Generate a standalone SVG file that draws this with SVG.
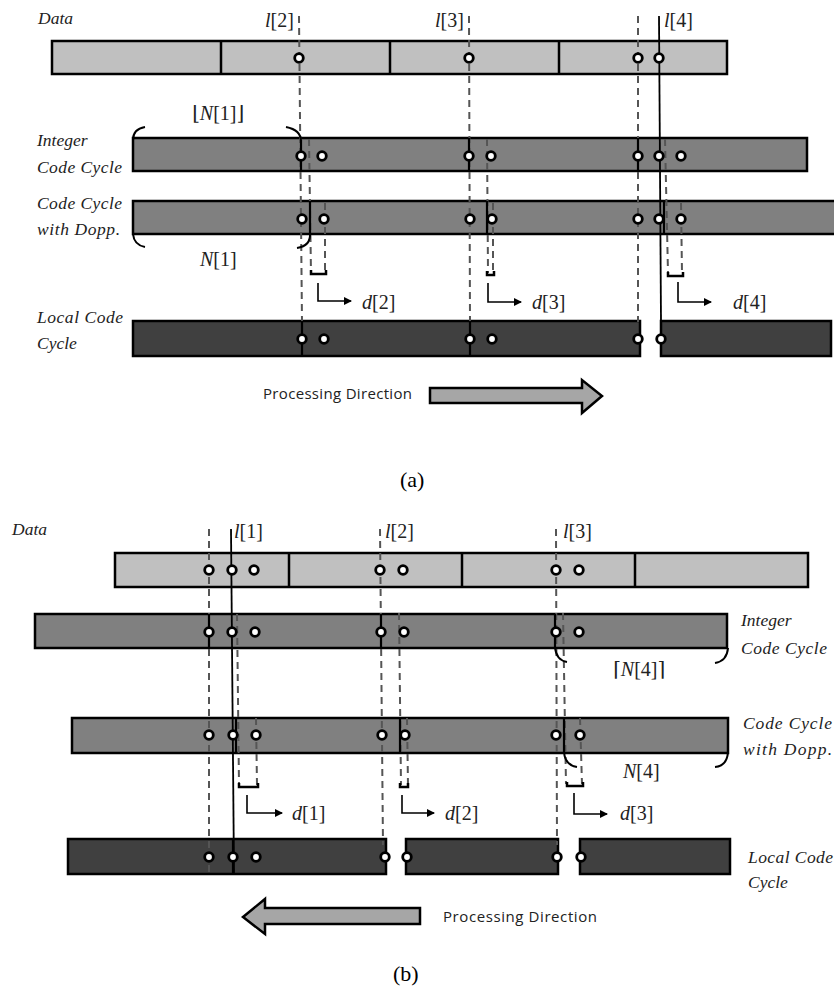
<svg xmlns="http://www.w3.org/2000/svg" width="834" height="1007" viewBox="0 0 834 1007">
<defs>
<style>
.bar{stroke:#000;stroke-width:2.5}
.data{fill:#c0c0c0}
.cyc{fill:#808080}
.loc{fill:#404040}
.div{stroke:#000;stroke-width:2.5}
.dash{stroke:#555;stroke-width:2;stroke-dasharray:7 5;fill:none}
.solid{stroke:#000;stroke-width:1.8;fill:none}
.mark{stroke:#000;stroke-width:2.2;fill:none}
.brace{stroke:#000;stroke-width:2;fill:none}
.brk{stroke:#000;stroke-width:2.5;fill:none}
.arr{stroke:#000;stroke-width:1.6;fill:none;marker-end:url(#ah)}
.pt{fill:#fff;stroke:#000;stroke-width:2.8}
.lab{font-family:"Liberation Serif","DejaVu Serif",serif;font-style:italic;font-size:17.5px;fill:#222}
.math{font-family:"Liberation Serif","DejaVu Serif",serif;font-size:20px;fill:#222}
.it{font-style:italic}
.pd{font-family:"Open Sans","Liberation Sans",sans-serif;font-size:15px;fill:#222}
.cap{font-family:"Liberation Serif","DejaVu Serif",serif;font-size:22px;fill:#000}
.big{fill:#a6a6a6;stroke:#000;stroke-width:2.5}
</style>
<marker id="ah" markerWidth="8" markerHeight="8" refX="7" refY="4" orient="auto" markerUnits="userSpaceOnUse">
<path d="M0,0 L8,4 L0,8 Z" fill="#000"/>
</marker>
</defs>

<!-- ===== (a) ===== -->
<g id="a-data">
<rect class="bar data" x="52" y="41" width="675" height="33"/>
<line class="div" x1="221" y1="41" x2="221" y2="74"/>
<line class="div" x1="390" y1="41" x2="390" y2="74"/>
<line class="div" x1="559" y1="41" x2="559" y2="74"/>
<text class="lab" x="38" y="24">Data</text>
</g>
<g id="a-integer">
<rect class="bar cyc" x="133" y="138" width="674" height="33"/>
<text class="lab" x="37" y="146">Integer</text>
<text class="lab" x="37" y="173" textLength="85">Code Cycle</text>
</g>
<g id="a-dopp">
<rect class="bar cyc" x="133" y="201" width="710" height="33"/>
<text class="lab" x="37" y="209" textLength="85">Code Cycle</text>
<text class="lab" x="37" y="235" textLength="83">with Dopp.</text>
</g>
<g id="a-local">
<rect class="bar loc" x="133" y="321" width="507" height="35"/>
<rect class="bar loc" x="661" y="321" width="170" height="35"/>
<text class="lab" x="37" y="323" textLength="86">Local Code</text>
<text class="lab" x="37" y="349">Cycle</text>
</g>

<g id="a-connectors">
<line class="dash" x1="299" y1="16" x2="302" y2="322"/>
<line class="dash" x1="469" y1="16" x2="470" y2="322"/>
<line class="dash" x1="638" y1="16" x2="638" y2="322"/>
<line class="solid" x1="659" y1="16" x2="661" y2="322"/>
<line class="dash" x1="309" y1="139" x2="311" y2="273"/>
<line class="dash" x1="325" y1="203" x2="325" y2="273"/>
<line class="dash" x1="487" y1="139" x2="488" y2="273"/>
<line class="dash" x1="493" y1="203" x2="493" y2="273"/>
<line class="dash" x1="665" y1="139" x2="668" y2="273"/>
<line class="dash" x1="681" y1="203" x2="682" y2="273"/>
<line class="mark" x1="301" y1="140" x2="301" y2="171"/>
<line class="mark" x1="469" y1="138" x2="469" y2="171"/>
<line class="mark" x1="638" y1="138" x2="638" y2="171"/>
<line class="mark" x1="310" y1="201" x2="310" y2="234"/>
<line class="mark" x1="487" y1="201" x2="487" y2="234"/>
<line class="mark" x1="664" y1="201" x2="664" y2="234"/>
<line class="mark" x1="302" y1="321" x2="302" y2="356"/>
<line class="mark" x1="470" y1="321" x2="470" y2="356"/>
<path class="brace" d="M145,127 Q133,129 133,140"/>
<path class="brace" d="M286,127 Q301,130 301,141"/>
<path class="brace" d="M133,234 Q134,245 145,247"/>
<path class="brace" d="M310,233 Q311,246 297,248"/>
<path class="brk" d="M311,270 V274 H326 V270"/>
<path class="brk" d="M487,271 V275 H494 V271"/>
<path class="brk" d="M668,272 V276 H683 V272"/>
<path class="arr" d="M318,283 V301 H351"/>
<path class="arr" d="M488,283 V302 H521"/>
<path class="arr" d="M678,282 V302 H711"/>
</g>

<g id="a-points">
<circle class="pt" cx="299" cy="58" r="4.3"/>
<circle class="pt" cx="469" cy="58" r="4.3"/>
<circle class="pt" cx="638" cy="58" r="4.3"/>
<circle class="pt" cx="659" cy="58" r="4.3"/>
<circle class="pt" cx="301" cy="156" r="4.3"/>
<circle class="pt" cx="322" cy="156" r="4.3"/>
<circle class="pt" cx="469" cy="156" r="4.3"/>
<circle class="pt" cx="491" cy="156" r="4.3"/>
<circle class="pt" cx="638" cy="156" r="4.3"/>
<circle class="pt" cx="659" cy="156" r="4.3"/>
<circle class="pt" cx="681" cy="156" r="4.3"/>
<circle class="pt" cx="302" cy="219" r="4.3"/>
<circle class="pt" cx="324" cy="219" r="4.3"/>
<circle class="pt" cx="470" cy="219" r="4.3"/>
<circle class="pt" cx="492" cy="219" r="4.3"/>
<circle class="pt" cx="638" cy="219" r="4.3"/>
<circle class="pt" cx="659" cy="219" r="4.3"/>
<circle class="pt" cx="681" cy="219" r="4.3"/>
<circle class="pt" cx="302" cy="339" r="4.3"/>
<circle class="pt" cx="324" cy="339" r="4.3"/>
<circle class="pt" cx="470" cy="339" r="4.3"/>
<circle class="pt" cx="492" cy="339" r="4.3"/>
<circle class="pt" cx="638" cy="339" r="4.3"/>
<circle class="pt" cx="661" cy="339" r="4.3"/>
</g>

<g id="a-labels">
<text class="math" x="265" y="27"><tspan class="it">l</tspan>[2]</text>
<text class="math" x="435" y="27"><tspan class="it">l</tspan>[3]</text>
<text class="math" x="664" y="27"><tspan class="it">l</tspan>[4]</text>
<text class="math" x="192" y="120">⌊<tspan class="it">N</tspan>[1]⌋</text>
<text class="math" x="200" y="266"><tspan class="it">N</tspan>[1]</text>
<text class="math" x="362" y="309"><tspan class="it">d</tspan>[2]</text>
<text class="math" x="532" y="309"><tspan class="it">d</tspan>[3]</text>
<text class="math" x="733" y="309"><tspan class="it">d</tspan>[4]</text>
</g>

<g id="a-direction">
<text class="pd" x="263" y="399" textLength="149">Processing Direction</text>
<path class="big" d="M430,388 H582 V380 L602,396 L582,413 V403 H430 Z"/>
</g>
<text class="cap" x="400" y="487">(a)</text>

<!-- ===== (b) ===== -->
<g id="b-data">
<rect class="bar data" x="115" y="553" width="693" height="34"/>
<line class="div" x1="289" y1="553" x2="289" y2="587"/>
<line class="div" x1="462" y1="553" x2="462" y2="587"/>
<line class="div" x1="635" y1="553" x2="635" y2="587"/>
<text class="lab" x="12" y="535">Data</text>
</g>
<g id="b-integer">
<rect class="bar cyc" x="35" y="614" width="692" height="34"/>
<text class="lab" x="741" y="626">Integer</text>
<text class="lab" x="741" y="654" textLength="86">Code Cycle</text>
</g>
<g id="b-dopp">
<rect class="bar cyc" x="72" y="718" width="656" height="35"/>
<text class="lab" x="743" y="729" textLength="89">Code Cycle</text>
<text class="lab" x="743" y="755" textLength="89">with Dopp.</text>
</g>
<g id="b-local">
<rect class="bar loc" x="68" y="839" width="318" height="35"/>
<rect class="bar loc" x="406" y="839" width="152" height="35"/>
<rect class="bar loc" x="580" y="839" width="150" height="35"/>
<text class="lab" x="748" y="863" textLength="85">Local Code</text>
<text class="lab" x="748" y="888">Cycle</text>
</g>

<g id="b-connectors">
<line class="dash" x1="209" y1="529" x2="209" y2="875"/>
<line class="solid" x1="231" y1="529" x2="234" y2="874"/>
<line class="dash" x1="380" y1="529" x2="383" y2="845"/>
<line class="dash" x1="556" y1="529" x2="557" y2="845"/>
<line class="dash" x1="237" y1="614" x2="239" y2="785"/>
<line class="dash" x1="256" y1="718" x2="257" y2="785"/>
<line class="dash" x1="399" y1="613" x2="401" y2="785"/>
<line class="dash" x1="407" y1="718" x2="408" y2="785"/>
<line class="dash" x1="563" y1="613" x2="566" y2="784"/>
<line class="dash" x1="580" y1="718" x2="582" y2="784"/>
<line class="mark" x1="209" y1="614" x2="209" y2="648"/>
<line class="mark" x1="381" y1="614" x2="381" y2="648"/>
<line class="mark" x1="555" y1="614" x2="555" y2="648"/>
<line class="mark" x1="236" y1="718" x2="236" y2="753"/>
<line class="mark" x1="400" y1="718" x2="400" y2="753"/>
<line class="mark" x1="564" y1="718" x2="564" y2="753"/>
<line class="mark" x1="233" y1="839" x2="233" y2="874"/>
<path class="brace" d="M555,647 Q556,660 567,662"/>
<path class="brace" d="M728,648 Q727,661 715,663"/>
<path class="brace" d="M564,752 Q565,765 577,767"/>
<path class="brace" d="M728,752 Q727,766 715,767"/>
<path class="brk" d="M239,783 V787 H258 V783"/>
<path class="brk" d="M400,783 V787 H408 V783"/>
<path class="brk" d="M567,782 V786 H583 V782"/>
<path class="arr" d="M247,795 V813 H282"/>
<path class="arr" d="M402,795 V813 H434"/>
<path class="arr" d="M574,793 V814 H607"/>
</g>

<g id="b-points">
<circle class="pt" cx="209" cy="570" r="4.3"/>
<circle class="pt" cx="232" cy="570" r="4.3"/>
<circle class="pt" cx="254" cy="570" r="4.3"/>
<circle class="pt" cx="380" cy="570" r="4.3"/>
<circle class="pt" cx="403" cy="570" r="4.3"/>
<circle class="pt" cx="556" cy="570" r="4.3"/>
<circle class="pt" cx="579" cy="570" r="4.3"/>
<circle class="pt" cx="209" cy="632" r="4.3"/>
<circle class="pt" cx="232" cy="632" r="4.3"/>
<circle class="pt" cx="255" cy="632" r="4.3"/>
<circle class="pt" cx="381" cy="632" r="4.3"/>
<circle class="pt" cx="404" cy="632" r="4.3"/>
<circle class="pt" cx="556" cy="632" r="4.3"/>
<circle class="pt" cx="579" cy="632" r="4.3"/>
<circle class="pt" cx="209" cy="735" r="4.3"/>
<circle class="pt" cx="233" cy="735" r="4.3"/>
<circle class="pt" cx="256" cy="735" r="4.3"/>
<circle class="pt" cx="382" cy="735" r="4.3"/>
<circle class="pt" cx="405" cy="735" r="4.3"/>
<circle class="pt" cx="556" cy="735" r="4.3"/>
<circle class="pt" cx="580" cy="735" r="4.3"/>
<circle class="pt" cx="209" cy="857" r="4.3"/>
<circle class="pt" cx="233" cy="857" r="4.3"/>
<circle class="pt" cx="256" cy="857" r="4.3"/>
<circle class="pt" cx="385" cy="857" r="4.3"/>
<circle class="pt" cx="407" cy="857" r="4.3"/>
<circle class="pt" cx="557" cy="857" r="4.3"/>
<circle class="pt" cx="581" cy="857" r="4.3"/>
</g>

<g id="b-labels">
<text class="math" x="234" y="538"><tspan class="it">l</tspan>[1]</text>
<text class="math" x="385" y="538"><tspan class="it">l</tspan>[2]</text>
<text class="math" x="563" y="538"><tspan class="it">l</tspan>[3]</text>
<text class="math" x="613" y="676">⌈<tspan class="it">N</tspan>[4]⌉</text>
<text class="math" x="623" y="778"><tspan class="it">N</tspan>[4]</text>
<text class="math" x="292" y="820"><tspan class="it">d</tspan>[1]</text>
<text class="math" x="445" y="820"><tspan class="it">d</tspan>[2]</text>
<text class="math" x="620" y="820"><tspan class="it">d</tspan>[3]</text>
</g>

<g id="b-direction">
<path class="big" d="M420,908 H265 V899 L243,917 L265,934 V924 H420 Z"/>
<text class="pd" x="443" y="922" textLength="154">Processing Direction</text>
</g>
<text class="cap" x="393" y="981">(b)</text>
</svg>
